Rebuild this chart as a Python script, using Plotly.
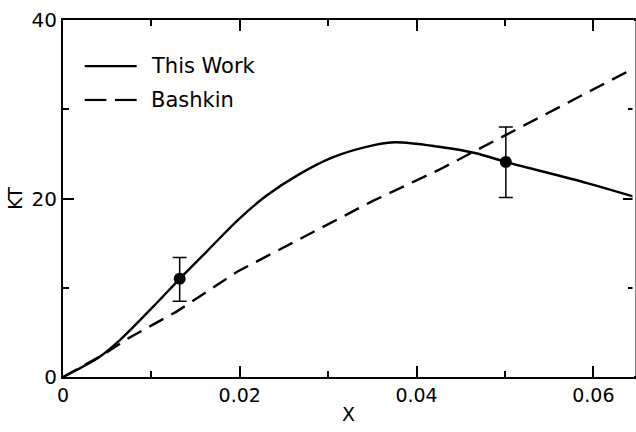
import plotly.graph_objects as go

# "This Work" curve
work_x = [0, 0.0042, 0.0064, 0.0109, 0.0132, 0.0162, 0.0199, 0.0230, 0.0267,
          0.0305, 0.0353, 0.0376, 0.0425, 0.0466, 0.0501, 0.0594, 0.0646]
work_y = [0, 2.3, 4.1, 8.6, 11.0, 14.0, 17.7, 20.3, 22.7,
          24.6, 26.0, 26.3, 25.8, 25.1, 24.1, 21.7, 20.2]

# Bashkin curve
bash_x = [0, 0.0042, 0.0075, 0.0128, 0.0197, 0.0226, 0.0312, 0.0350, 0.0425,
          0.0530, 0.0620, 0.0646]
bash_y = [0, 2.3, 4.4, 7.3, 11.8, 13.3, 17.8, 19.7, 23.2,
          28.6, 33.3, 34.6]

# measured points with error bars
pt_x = [0.0132, 0.0501]
pt_y = [11.0, 24.1]
err_up = [2.4, 3.9]
err_down = [2.5, 4.0]

names = ["This Work", "Bashkin"]

x_ticks = [0, 0.02, 0.04, 0.06]
x_tick_text = ["0", "0.02", "0.04", "0.06"]
y_ticks = [0, 20, 40]

FONT = "DejaVu Sans"

fig = go.Figure()
fig.add_trace(go.Scatter(x=work_x, y=work_y, mode="lines", name=names[0],
                         line=dict(color="black", width=2.4, shape="spline",
                                   smoothing=1.0),
                         showlegend=False))
fig.add_trace(go.Scatter(x=bash_x, y=bash_y, mode="lines", name=names[1],
                         line=dict(color="black", width=2.4, dash="16px,9px"),
                         showlegend=False))
fig.add_trace(go.Scatter(x=pt_x, y=pt_y, mode="markers",
                         marker=dict(color="black", size=12),
                         error_y=dict(type="data", array=err_up, arrayminus=err_down,
                                      color="black", thickness=1.5, width=7),
                         showlegend=False))

# hand-drawn key in the upper left
legend_rows = [(0.871, "solid"), (0.776, "dash")]
for (yy, style), label in zip(legend_rows, names):
    if style == "solid":
        segs = [(0.038, 0.129)]
    else:
        segs = [(0.038, 0.076), (0.091, 0.129)]
    for a, b in segs:
        fig.add_shape(type="line", xref="paper", yref="paper",
                      x0=a, x1=b, y0=yy, y1=yy,
                      line=dict(color="black", width=2.2))
    fig.add_annotation(x=0.150, y=yy, xref="paper", yref="paper", text=label,
                       showarrow=False, xanchor="left", yanchor="middle",
                       font=dict(family=FONT, size=21, color="black"))

# the frame has no right-hand rule, only its tick stubs
fig.add_shape(type="line", xref="paper", yref="paper", x0=1, x1=1, y0=0.003, y1=0.997,
              line=dict(color="white", width=3), layer="above")

axis_common = dict(showline=True, linecolor="black", linewidth=2, mirror="ticks",
                   ticks="inside", tickcolor="black", tickwidth=1.5, ticklen=11,
                   showgrid=False, zeroline=False)

fig.update_xaxes(range=[0, 0.0646], tickvals=x_ticks, ticktext=x_tick_text,
                 tickfont=dict(family=FONT, size=19, color="black"),
                 title=dict(text="X", font=dict(family=FONT, size=19, color="black"),
                            standoff=3),
                 minor=dict(dtick=0.01, ticks="inside", ticklen=6, tickwidth=1.5,
                            tickcolor="black", showgrid=False),
                 **axis_common)
fig.update_yaxes(range=[0, 40], tickvals=y_ticks,
                 tickfont=dict(family=FONT, size=20, color="black"),
                 title=dict(text="KT", font=dict(family=FONT, size=19, color="black"),
                            standoff=4),
                 minor=dict(dtick=10, ticks="inside", ticklen=6, tickwidth=1.5,
                            tickcolor="black", showgrid=False),
                 **axis_common)

fig.update_layout(width=636, height=432, autosize=False,
                  margin=dict(l=63, r=0, t=20, b=55),
                  plot_bgcolor="white", paper_bgcolor="white",
                  showlegend=False)

fig.write_html("out.html")
